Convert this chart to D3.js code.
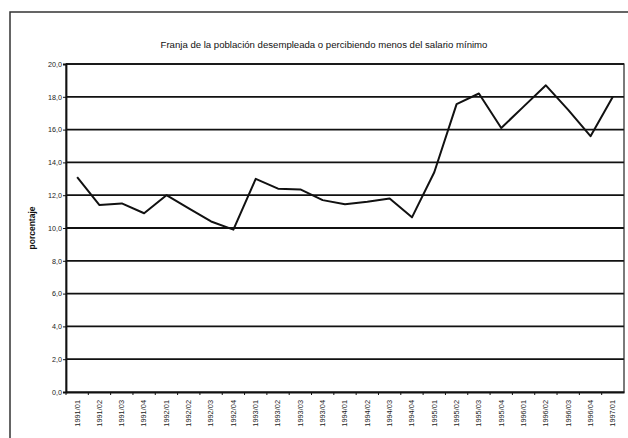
<!DOCTYPE html>
<html>
<head>
<meta charset="utf-8">
<script src="https://cdn.jsdelivr.net/npm/d3@7"></script>
<style>
  body { margin: 0; background: #fff; }
  svg { display: block; font-family: "Liberation Sans", Arial, sans-serif; }
</style>
</head>
<body>
<svg id="chart" width="628" height="438"></svg>
<script>
// quarters 1991/01 .. 1997/01
const quarters = ["1991/01","1991/02","1991/03","1991/04","1992/01","1992/02","1992/03","1992/04",
    "1993/01","1993/02","1993/03","1993/04","1994/01","1994/02","1994/03","1994/04",
    "1995/01","1995/02","1995/03","1995/04","1996/01","1996/02","1996/03","1996/04","1997/01"];
const porcentaje = [13.1, 11.4, 11.5, 10.9, 12.0, 11.2, 10.4, 9.9,
    13.0, 12.4, 12.35, 11.7, 11.45, 11.6, 11.8, 10.65,
    13.4, 17.55, 18.2, 16.1, 17.4, 18.7, 17.2, 15.6, 18.0];
const yTicks = [0, 2, 4, 6, 8, 10, 12, 14, 16, 18, 20];
const title = "Franja de la población desempleada o percibiendo menos del salario mínimo";
const yLabel = "porcentaje";

const svg = d3.select("#chart");
const plot = {left: 66, right: 624, top: 64, bottom: 392};

// outer chart frame
svg.append("rect")
    .attr("x", 10).attr("y", 12)
    .attr("width", 640).attr("height", 440)
    .attr("fill", "none").attr("stroke", "#333").attr("stroke-width", 1.5);

svg.append("text")
    .attr("x", 324).attr("y", 48)
    .attr("text-anchor", "middle")
    .attr("font-size", 9.6)
    .attr("fill", "#111")
    .text(title);

const x = d3.scaleBand().domain(quarters).range([plot.left, plot.right]);
const y = d3.scaleLinear().domain([0, 20]).range([plot.bottom, plot.top]);

// gridlines
svg.append("g").selectAll("line")
    .data(yTicks.filter(d => d > 0))
    .join("line")
    .attr("x1", plot.left).attr("x2", plot.right)
    .attr("y1", d => y(d)).attr("y2", d => y(d))
    .attr("stroke", "#111").attr("stroke-width", 1.8);

// plot frame
svg.append("rect")
    .attr("x", plot.left).attr("y", plot.top)
    .attr("width", plot.right - plot.left).attr("height", plot.bottom - plot.top)
    .attr("fill", "none").attr("stroke", "#222").attr("stroke-width", 1.2);

// y axis
const axisY = d3.axisLeft(y).tickValues(yTicks).tickSize(3)
    .tickFormat(d => d3.format(".1f")(d).replace(".", ","));
const gy = svg.append("g")
    .attr("transform", `translate(${plot.left},0)`)
    .call(axisY);
gy.select(".domain").attr("stroke", "#111").attr("stroke-width", 1.8);
gy.selectAll(".tick line").attr("stroke", "#111");
gy.selectAll(".tick text").attr("font-size", 7.2).attr("fill", "#222").attr("x", -4);

// x axis
const axisX = d3.axisBottom(x).tickSize(0);
const gx = svg.append("g")
    .attr("transform", `translate(0,${plot.bottom})`)
    .call(axisX);
gx.select(".domain").attr("stroke", "#111").attr("stroke-width", 1.8);
gx.selectAll(".tick text")
    .attr("font-size", 7.4).attr("fill", "#222")
    .attr("transform", "rotate(-90)")
    .attr("x", -8).attr("y", 0).attr("dy", "0.32em")
    .attr("text-anchor", "end");
// category boundary tick marks
svg.append("g").selectAll("line")
    .data(quarters)
    .join("line")
    .attr("x1", d => x(d)).attr("x2", d => x(d))
    .attr("y1", plot.bottom).attr("y2", plot.bottom + 3)
    .attr("stroke", "#111");

svg.append("text")
    .attr("transform", `translate(35,${(plot.top + plot.bottom) / 2}) rotate(-90)`)
    .attr("text-anchor", "middle")
    .attr("font-size", 8.5).attr("font-weight", "bold")
    .attr("fill", "#111")
    .text(yLabel);

// series line
const line = d3.line()
    .x((d, i) => x(quarters[i]) + x.bandwidth() / 2)
    .y(d => y(d));
svg.append("path")
    .datum(porcentaje)
    .attr("d", line)
    .attr("fill", "none")
    .attr("stroke", "#111")
    .attr("stroke-width", 2)
    .attr("stroke-linejoin", "round");
</script>
</body>
</html>
